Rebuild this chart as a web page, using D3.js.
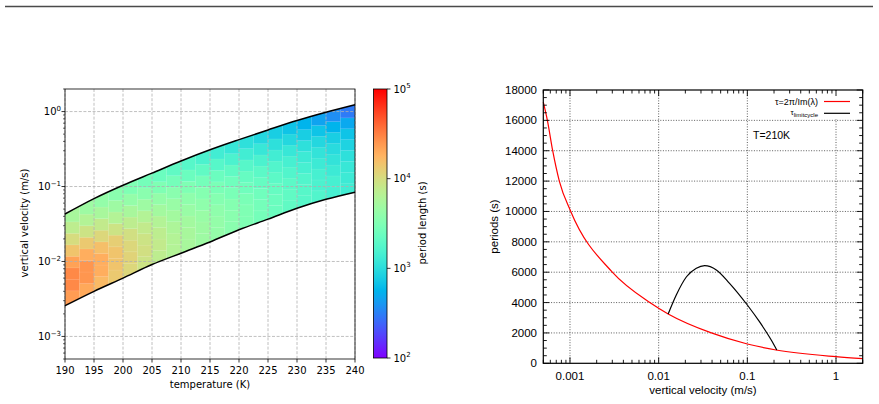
<!DOCTYPE html>
<html><head><meta charset="utf-8">
<script src="https://cdn.jsdelivr.net/npm/d3@7"></script>
<style>body{margin:0;background:#fff} svg{display:block}</style>
</head><body><svg id="c" width="879" height="404"></svg>
<script>
// ---------- data: left panel ----------
const temps = [190,195,200,205,210,215,220,225,230,235,240];
const vUpper = [0.043,0.069,0.104,0.151,0.219,0.309,0.422,0.569,0.759,0.977,1.23];
const vLower = [0.00257,0.0040,0.0060,0.0091,0.0129,0.0182,0.0265,0.0367,0.0513,0.0676,0.0841];
const cellTempEdges = [190,192.5,195,197.5,200,202.5,205,207.5,210,212.5,215,217.5,220,222.5,225,227.5,230,232.5,235,237.5,240];
const cellBandEdges = [0,0.125,0.25,0.375,0.5,0.625,0.75,0.875,1];
// period length (s) per temperature column, from lower to upper boundary
const periodGrid = [
 [23400,28800,28800,21900,14500,10200,7240,5500],
 [20400,25100,25100,19100,13500,8910,6310,4790],
 [16600,19100,19100,15500,11000,7760,5500,4170],
 [13500,14500,14500,12600,8910,6310,4790,3630],
 [11000,11700,11000,9550,7240,5500,4170,3160],
 [8910,9550,8910,7760,6310,4790,3630,2750],
 [7240,7760,7240,6310,5130,4170,3160,2400],
 [6310,6310,5890,5130,4470,3630,2750,2090],
 [5500,5500,5130,4470,3890,3160,2400,1820],
 [4790,4790,4470,3890,3390,2750,2090,1580],
 [4170,4170,3890,3390,2950,2400,1820,1380],
 [3630,3630,3390,2950,2570,2090,1580,1200],
 [3160,3160,2950,2570,2240,1820,1380,1050],
 [2750,2750,2570,2240,1950,1580,1200,912],
 [2400,2400,2240,1950,1700,1380,1050,794],
 [2090,2090,1950,1700,1480,1200,912,692],
 [1820,1820,1700,1480,1290,1050,794,562],
 [1700,1580,1480,1290,1120,912,692,457],
 [1480,1480,1290,1120,977,794,562,372],
 [1380,1290,1200,1050,851,692,490,302]
];
const xTicksLeft = [190,195,200,205,210,215,220,225,230,235,240];
const yTicksLeft = [1e-3,1e-2,1e-1,1];
const yTickExpLeft = ["\u22123","\u22122","\u22121","0"];
const cbTicks = [1e2,1e3,1e4,1e5];
const cbTickExp = ["2","3","4","5"];

// ---------- data: right panel ----------
const redV =   [0.0005,0.000556,0.000638,0.000758,0.00102,0.003,0.00794,0.0128,0.0393,0.1,0.211,1,2];
const redTau = [17200,16000,14000,12000,10000,6000,4000,3250,2000,1270,876,435,303];
const blackV =   [0.0128,0.0158,0.0206,0.0266,0.033,0.0447,0.063,0.1,0.137,0.186,0.215];
const blackTau = [3250,4500,5700,6260,6430,6150,5270,3840,2740,1535,876];
const xTicksRight = [0.001,0.01,0.1,1];
const xTickLabelsRight = ["0.001","0.01","0.1","1"];
const yTicksRight = [0,2000,4000,6000,8000,10000,12000,14000,16000,18000];

// ---------- drawing ----------
const svg = d3.select("#c");
const DV = "'DejaVu Sans', sans-serif";
const LS = "'Liberation Sans', Arial, sans-serif";

svg.append("line").attr("x1",5).attr("x2",873).attr("y1",6.5).attr("y2",6.5)
  .attr("stroke","#4a4a4a").attr("stroke-width",1.6);

function rainbow(t){
  t = Math.max(0,Math.min(1,t));
  const r = Math.min(1,Math.abs(2*t-0.5)), g = Math.sin(Math.PI*t), b = Math.max(0,Math.cos(Math.PI*t/2));
  return d3.rgb(r*255,g*255,b*255).formatHex();
}

// left scales
const xL = d3.scaleLinear().domain([190,240]).range([65,355]);
const yL = d3.scaleLog().domain([5e-4,2]).range([359,89]);
const cNorm = d3.scaleLog().domain([1e2,1e5]).range([0,1]).clamp(true);

const defs = svg.append("defs");
const bandArea = d3.area()
  .x((d,i)=>xL(temps[i])).y0((d,i)=>yL(vLower[i])).y1((d,i)=>yL(vUpper[i]))
  .curve(d3.curveMonotoneX);
defs.append("clipPath").attr("id","band").append("path").attr("d", bandArea(temps));

const logUp = d3.scaleLinear().domain(temps).range(vUpper.map(Math.log10));
const logLo = d3.scaleLinear().domain(temps).range(vLower.map(Math.log10));

const cells = [];
periodGrid.forEach((col,j)=>{
  const t0 = cellTempEdges[j], t1 = cellTempEdges[j+1], tc=(t0+t1)/2;
  const lo = logLo(tc), hi = logUp(tc);
  col.forEach((p,i)=>{
    let fa = cellBandEdges[i], fb = cellBandEdges[i+1];
    if(i===0) fa = -0.45;
    if(i===col.length-1) fb = 1.45;
    cells.push({t0,t1,va:Math.pow(10,lo+fa*(hi-lo)),vb:Math.pow(10,lo+fb*(hi-lo)),p});
  });
});
const gCells = svg.append("g").attr("clip-path","url(#band)");
gCells.selectAll("rect").data(cells).join("rect")
  .attr("x",d=>xL(d.t0)).attr("width",d=>xL(d.t1)-xL(d.t0)+0.3)
  .attr("y",d=>yL(d.vb)).attr("height",d=>yL(d.va)-yL(d.vb)+0.3)
  .attr("fill",d=>rainbow(cNorm(d.p)))
  .attr("stroke","rgba(255,255,255,0.18)").attr("stroke-width",0.5);

// left grid
const gGrid = svg.append("g").attr("stroke","#b0b0b0").attr("stroke-width",0.8).attr("stroke-dasharray","3,1.6");
xTicksLeft.forEach(t=>{ gGrid.append("line").attr("x1",xL(t)).attr("x2",xL(t)).attr("y1",89).attr("y2",359); });
yTicksLeft.forEach(t=>{ gGrid.append("line").attr("x1",65).attr("x2",355).attr("y1",yL(t)).attr("y2",yL(t)); });

// boundary lines
const lineU = d3.line().x((d,i)=>xL(temps[i])).y((d,i)=>yL(vUpper[i])).curve(d3.curveMonotoneX);
const lineD = d3.line().x((d,i)=>xL(temps[i])).y((d,i)=>yL(vLower[i])).curve(d3.curveMonotoneX);
svg.append("path").attr("d",lineU(temps)).attr("fill","none").attr("stroke","#000").attr("stroke-width",1.5);
svg.append("path").attr("d",lineD(temps)).attr("fill","none").attr("stroke","#000").attr("stroke-width",1.5);

// left spines
svg.append("rect").attr("x",65).attr("y",89).attr("width",290).attr("height",270)
  .attr("fill","none").attr("stroke","#000").attr("stroke-width",0.8);

// left x ticks
const gxL = svg.append("g");
xTicksLeft.forEach(t=>{
  gxL.append("line").attr("x1",xL(t)).attr("x2",xL(t)).attr("y1",359).attr("y2",362.5).attr("stroke","#000").attr("stroke-width",0.8);
  gxL.append("text").attr("x",xL(t)).attr("y",373.5).attr("text-anchor","middle")
    .attr("font-family",DV).attr("font-size",10).attr("fill","#000").text(t);
});
svg.append("text").attr("x",210).attr("y",387.5).attr("text-anchor","middle")
  .attr("font-family",DV).attr("font-size",10).text("temperature (K)");

// left y ticks
const gyL = svg.append("g");
for(let k=-4;k<=0;k++){
  for(let m=2;m<=9;m++){
    const v=m*Math.pow(10,k);
    if(v<5e-4||v>2) continue;
    gyL.append("line").attr("x1",63).attr("x2",65).attr("y1",yL(v)).attr("y2",yL(v)).attr("stroke","#000").attr("stroke-width",0.6);
  }
}
yTicksLeft.forEach((t,i)=>{
  gyL.append("line").attr("x1",61.5).attr("x2",65).attr("y1",yL(t)).attr("y2",yL(t)).attr("stroke","#000").attr("stroke-width",0.8);
  const tx = gyL.append("text").attr("x",61).attr("y",yL(t)+3.6).attr("text-anchor","end")
    .attr("font-family",DV).attr("font-size",10).attr("fill","#000");
  tx.append("tspan").text("10");
  tx.append("tspan").attr("dy",-4.5).attr("font-size",7).text(yTickExpLeft[i]);
});
svg.append("text").attr("transform","translate(27.5,223) rotate(-90)").attr("text-anchor","middle")
  .attr("font-family",DV).attr("font-size",10).text("vertical velocity (m/s)");

// colorbar
const cbY = d3.scaleLog().domain([1e2,1e5]).range([358,89]);
const grad = defs.append("linearGradient").attr("id","cbg").attr("x1",0).attr("y1",1).attr("x2",0).attr("y2",0);
d3.range(0,1.0001,0.025).forEach(t=>{ grad.append("stop").attr("offset",t).attr("stop-color",rainbow(t)); });
svg.append("rect").attr("x",373.5).attr("y",89).attr("width",13.5).attr("height",269).attr("fill","url(#cbg)")
  .attr("stroke","#000").attr("stroke-width",0.8);
cbTicks.forEach((t,i)=>{
  svg.append("line").attr("x1",387).attr("x2",390.5).attr("y1",cbY(t)).attr("y2",cbY(t)).attr("stroke","#000").attr("stroke-width",0.8);
  const tx = svg.append("text").attr("x",393.5).attr("y",cbY(t)+3.6)
    .attr("font-family",DV).attr("font-size",10).attr("fill","#000");
  tx.append("tspan").text("10");
  tx.append("tspan").attr("dy",-4.5).attr("font-size",7).text(cbTickExp[i]);
});
svg.append("text").attr("transform","translate(425.5,223) rotate(-90)").attr("text-anchor","middle")
  .attr("font-family",DV).attr("font-size",10).text("period length (s)");

// ---------- right panel ----------
const xR = d3.scaleLog().domain([5e-4,2]).range([543.3,862.7]);
const yR = d3.scaleLinear().domain([0,18000]).range([363.3,90]);
const RL=543.3, RR=862.7, RT=90, RB=363.3;

const gG = svg.append("g").attr("stroke","#333").attr("stroke-width",0.8).attr("stroke-dasharray","1,1.6");
xTicksRight.forEach(t=>{ gG.append("line").attr("x1",xR(t)).attr("x2",xR(t)).attr("y1",RT).attr("y2",RB); });
yTicksRight.filter(t=>t>0&&t<18000).forEach(t=>{ gG.append("line").attr("x1",RL).attr("x2",RR).attr("y1",yR(t)).attr("y2",yR(t)); });

// key background
svg.append("rect").attr("x",764).attr("y",91).attr("width",97.5).attr("height",28).attr("fill","#fff");

const lineR = d3.line().x((d,i)=>xR(redV[i])).y((d,i)=>yR(redTau[i])).curve(d3.curveMonotoneX);
const lineB = d3.line().x((d,i)=>xR(blackV[i])).y((d,i)=>yR(blackTau[i])).curve(d3.curveMonotoneX);
svg.append("path").attr("d",lineR(redV)).attr("fill","none").attr("stroke","#ff0000").attr("stroke-width",1.2);
svg.append("path").attr("d",lineB(blackV)).attr("fill","none").attr("stroke","#000").attr("stroke-width",1.2);

// key
svg.append("text").attr("x",818).attr("y",104.5).attr("text-anchor","end").attr("font-family",LS).attr("font-size",9).text("\u03c4=2\u03c0/Im(\u03bb)");
svg.append("line").attr("x1",824).attr("x2",850).attr("y1",101.5).attr("y2",101.5).attr("stroke","#ff0000").attr("stroke-width",1.2);
const k2 = svg.append("text").attr("x",818).attr("y",115).attr("text-anchor","end").attr("font-family",LS).attr("font-size",8);
k2.append("tspan").text("\u03c4");
k2.append("tspan").attr("dy",2).attr("font-size",6).text("limitcycle");
svg.append("line").attr("x1",824).attr("x2",850).attr("y1",113.3).attr("y2",113.3).attr("stroke","#000").attr("stroke-width",1.2);

svg.append("text").attr("x",753).attr("y",139).attr("font-family",LS).attr("font-size",10.5).text("T=210K");

// frame
svg.append("rect").attr("x",RL).attr("y",RT).attr("width",RR-RL).attr("height",RB-RT)
  .attr("fill","none").attr("stroke","#000").attr("stroke-width",1.2);

// ticks (inward, mirrored)
const gT = svg.append("g").attr("stroke","#000").attr("stroke-width",0.9);
for(let k=-4;k<=0;k++){
  for(let m=1;m<=9;m++){
    const v=m*Math.pow(10,k);
    if(v<5e-4||v>2) continue;
    const L = m===1?6:3.5, x=xR(v);
    gT.append("line").attr("x1",x).attr("x2",x).attr("y1",RB).attr("y2",RB-L);
    gT.append("line").attr("x1",x).attr("x2",x).attr("y1",RT).attr("y2",RT+L);
  }
}
d3.range(0,18001,500).forEach(t=>{
  const L = (t%2000===0)?6:3.5, y=yR(t);
  gT.append("line").attr("x1",RL).attr("x2",RL+L).attr("y1",y).attr("y2",y);
  gT.append("line").attr("x1",RR).attr("x2",RR-L).attr("y1",y).attr("y2",y);
});
yTicksRight.forEach(t=>{
  svg.append("text").attr("x",537).attr("y",yR(t)+4).attr("text-anchor","end")
    .attr("font-family",LS).attr("font-size",11.5).text(t);
});
xTicksRight.forEach((t,i)=>{
  svg.append("text").attr("x",xR(t)).attr("y",380).attr("text-anchor","middle")
    .attr("font-family",LS).attr("font-size",11.5).text(xTickLabelsRight[i]);
});
svg.append("text").attr("x",703).attr("y",393.5).attr("text-anchor","middle")
  .attr("font-family",LS).attr("font-size",11.5).text("vertical velocity (m/s)");
svg.append("text").attr("transform","translate(498,226.5) rotate(-90)").attr("text-anchor","middle")
  .attr("font-family",LS).attr("font-size",11.5).text("periods (s)");
</script></body></html>
